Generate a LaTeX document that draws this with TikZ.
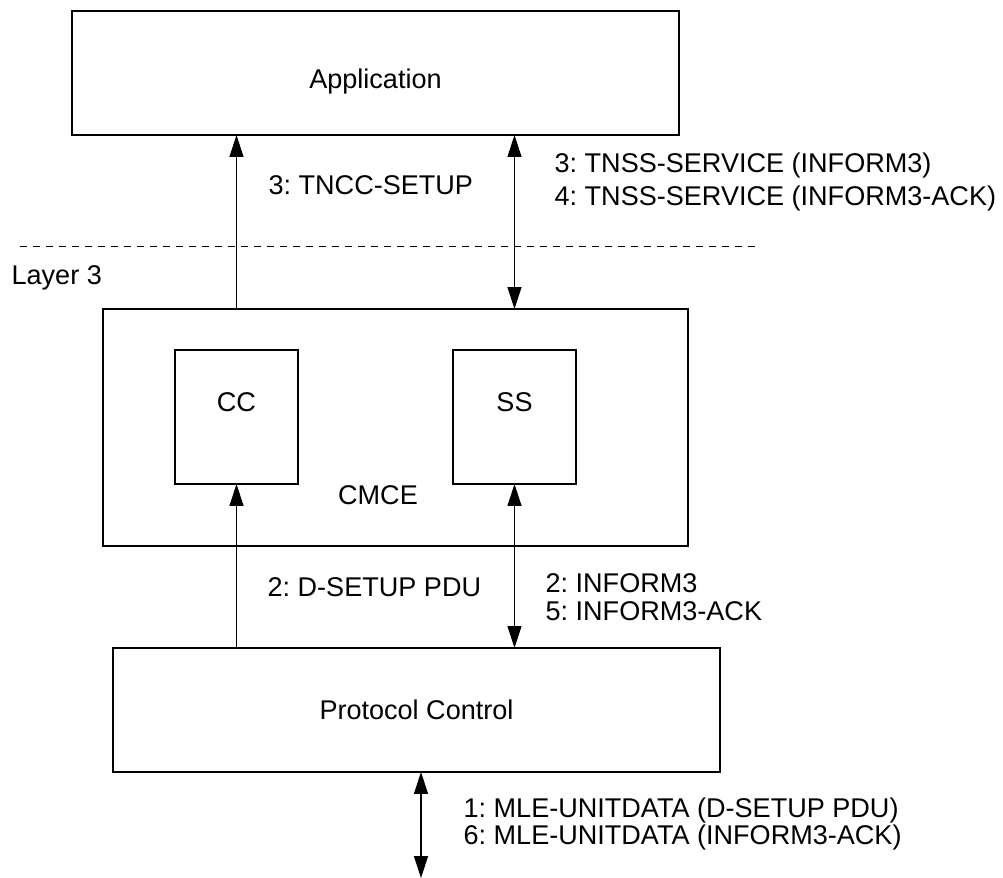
\documentclass[tikz,border=0pt]{standalone}
\usepackage{fontspec}
\setmainfont{Liberation Sans}
\usetikzlibrary{arrows.meta}
\frenchspacing

\begin{document}
\begin{tikzpicture}[x=0.02cm, y=-0.02cm, line width=0.7pt, >={Triangle[length=0.44cm,width=0.28cm]}]
	\tikzstyle{blk}=[draw, rectangle, inner sep=0pt, outer sep=0pt, text centered, font=\fontsize{15.4pt}{15.9pt}\selectfont]
	\tikzstyle{lbl}=[anchor=west, align=left, inner sep=0pt, font=\fontsize{15.4pt}{15.9pt}\selectfont]
	\useasboundingbox (0,0) rectangle (1003,878);

	% boxes
	\node[blk, minimum width=12.14cm, minimum height=2.48cm, label={[lbl, anchor=center, yshift=-0.18cm]center:Application}] (app) at (375.5,73) {};
	\node[blk, minimum width=11.7cm, minimum height=4.74cm] (cmce) at (395.5,427.5) {};
	\node[blk, minimum width=2.46cm, minimum height=2.68cm, label={[lbl, anchor=center, yshift=0.3cm]center:CC}] (cc) at (236.5,417) {};
	\node[blk, minimum width=2.46cm, minimum height=2.68cm, label={[lbl, anchor=center, yshift=0.3cm]center:SS}] (ss) at (514.5,417) {};
	\node[lbl, anchor=center] (cmcelbl) at (378,495) {CMCE};
	\node[blk, minimum width=12.14cm, minimum height=2.48cm] (proto) at (416.5,710) {Protocol Control};

	% layer boundary
	\coordinate (dl) at (20,246);
	\coordinate (dr) at (761,246);
	\draw[dash pattern=on 4pt off 3.4pt, line width=0.5pt] (dl) -- (dr);
	\node[lbl] (layer) at (11,278) {Layer 3};

	% primitives
	\draw[->] (cmce.north -| cc.north) -- (app.south -| cc.north);
	\draw[<->] (cmce.north -| ss.north) -- (app.south -| ss.north);
	\draw[->] (proto.north -| cc.south) -- (cc.south);
	\draw[<->] (ss.south) -- (proto.north -| ss.south);
	\coordinate (mle) at (421,878);
	\draw[<->] (proto.south -| mle) -- (mle);

	\node[lbl] (tncc) at (268,185) {3: TNCC-SETUP};
	\node[lbl] (tnss) at (554,182) {3: TNSS-SERVICE (INFORM3)\\[2.8pt]4: TNSS-SERVICE (INFORM3-ACK)};
	\node[lbl] (dsetup) at (267,587) {2: D-SETUP PDU};
	\node[lbl] (inform) at (545,597) {2: INFORM3\\5: INFORM3-ACK};
	\node[lbl] (mletxt) at (463,824) {1: MLE-UNITDATA (D-SETUP PDU)\\6: MLE-UNITDATA (INFORM3-ACK)};
\end{tikzpicture}
\end{document}
